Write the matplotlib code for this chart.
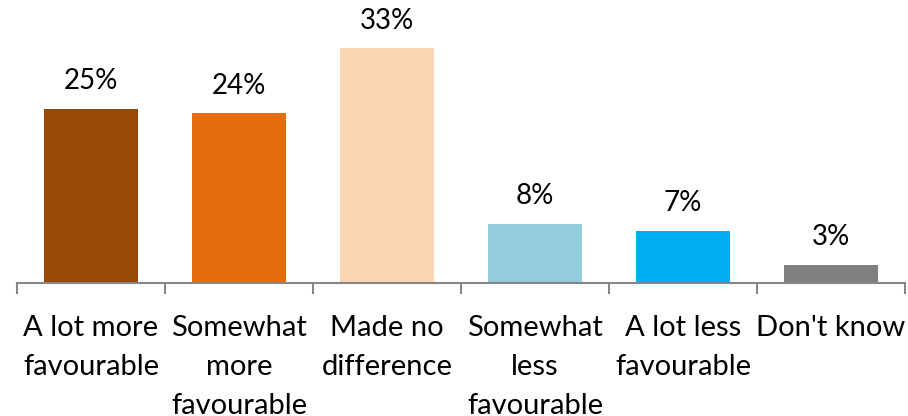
import matplotlib
matplotlib.use("Agg")
import matplotlib.pyplot as plt

categories = ["A lot more\nfavourable", "Somewhat\nmore\nfavourable", "Made no\ndifference",
              "Somewhat\nless\nfavourable", "A lot less\nfavourable", "Don't know"]
values = [24.7, 24.1, 33.3, 8.4, 7.4, 2.6]
labels = ["25%", "24%", "33%", "8%", "7%", "3%"]
colors = ["#984807", "#E46C0A", "#FCD5B5", "#93CDDD", "#00B0F0", "#808080"]

plt.rcParams['font.family'] = ['Lato', 'DejaVu Sans']
fig = plt.figure(figsize=(9.08, 4.16), dpi=100)
ax = fig.add_axes([17/908, 1-283/416, 888/908, (283-33)/416])
x = list(range(len(values)))
ax.bar(x, values, width=0.63, color=colors)
ax.set_xlim(-0.5, len(values)-0.5)
ax.set_ylim(0, 250/7.05)
for xi, v, l in zip(x, values, labels):
    ax.annotate(l, (xi, v), xytext=(0, 10.5), textcoords="offset points",
                ha="center", va="bottom", fontsize=20, color="#000000")
for s in ["top", "right", "left"]:
    ax.spines[s].set_visible(False)
ax.spines["bottom"].set_color("#868686")
ax.spines["bottom"].set_linewidth(1.5)
ax.set_yticks([])
ax.set_xticks([i-0.5 for i in range(len(values)+1)])
ax.set_xticklabels([])
ax.tick_params(axis="x", length=8, width=1.5, color="#868686")
for xi, c in zip(x, categories):
    ax.text(xi, -0.13, c, transform=ax.get_xaxis_transform(), ha="center", va="top",
            fontsize=21, linespacing=1.6, color="#000000")
fig.savefig("out.png", dpi=100)
